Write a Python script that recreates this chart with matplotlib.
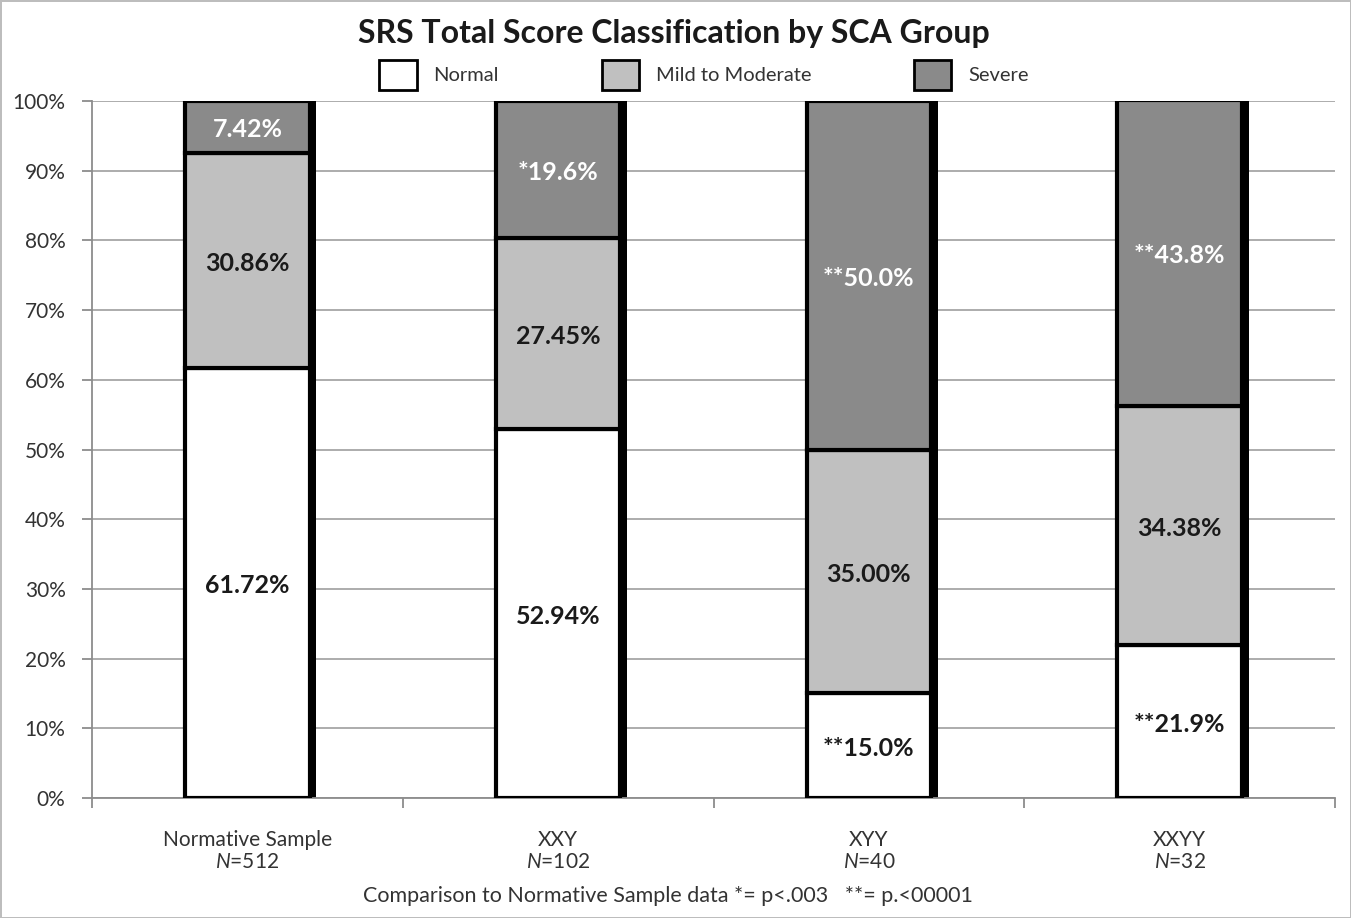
import matplotlib
matplotlib.use("Agg")
import matplotlib.pyplot as plt
import numpy as np
from matplotlib.patches import Patch
from matplotlib.ticker import FixedLocator, FuncFormatter

plt.rcParams['font.family'] = ['Lato', 'DejaVu Sans']
plt.rcParams['mathtext.fontset'] = 'custom'
plt.rcParams['mathtext.it'] = 'Lato:italic'
plt.rcParams['mathtext.rm'] = 'Lato'

groups = ["Normative Sample", "XXY", "XYY", "XXYY"]
ns = [512, 102, 40, 32]
normal = [61.72, 52.94, 15.0, 21.9]
mild = [30.86, 27.45, 35.00, 34.38]
severe = [7.42, 19.6, 50.0, 43.8]
normal_lbl = ["61.72%", "52.94%", "**15.0%", "**21.9%"]
mild_lbl = ["30.86%", "27.45%", "35.00%", "34.38%"]
severe_lbl = ["7.42%", "*19.6%", "**50.0%", "**43.8%"]
series_names = ["Normal", "Mild to Moderate", "Severe"]
colors = ["#ffffff", "#c0c0c0", "#8a8a8a"]
label_colors = ["#1a1a1a", "#1a1a1a", "#ffffff"]

fig = plt.figure(figsize=(13.51, 9.18), dpi=100)
fig.patch.set_edgecolor("#bdbdbd")
fig.patch.set_linewidth(2)
ax = fig.add_axes([92/1351, 1-798/918, (1335-92)/1351, (798-101)/918])

x = np.arange(len(groups))
width = 0.40
shadow_off = 0.022
totals = np.array(normal) + np.array(mild) + np.array(severe)

# shadow
ax.bar(x + shadow_off, totals, width, color="black", zorder=2)

bottom = np.zeros(len(groups))
for vals, col, lbls, lc in zip([normal, mild, severe], colors,
                               [normal_lbl, mild_lbl, severe_lbl], label_colors):
    vals = np.array(vals)
    ax.bar(x, vals, width, bottom=bottom, color=col, edgecolor="black",
           linewidth=3, zorder=3)
    for xi, b, v, l in zip(x, bottom, vals, lbls):
        ax.text(xi, b + v / 2 - 0.4, l, ha="center", va="center", fontsize=18,
                fontweight="bold", color=lc, zorder=5)
    bottom += vals

ax.set_xlim(-0.5, 3.5)
ax.set_ylim(0, 100)
ax.yaxis.set_major_locator(FixedLocator(np.arange(0, 101, 10)))
ax.yaxis.set_major_formatter(FuncFormatter(lambda v, p: f"{int(v)}%"))
ax.grid(axis="y", color="#a6a6a6", linewidth=1.3, zorder=0)
ax.set_axisbelow(True)
for s in ["top", "right"]:
    ax.spines[s].set_visible(False)
for s in ["left", "bottom"]:
    ax.spines[s].set_color("#8c8c8c")
    ax.spines[s].set_linewidth(1.3)

ax.set_xticks(x)
ax.set_xticklabels([f"{g}\n$\\mathit{{N}}$={n}" for g, n in zip(groups, ns)],
                   fontsize=15, color="#333333", linespacing=1.1)
ax.tick_params(axis="x", length=0, pad=23)
ax.set_xticks(np.arange(-0.5, 3.6, 1.0), minor=True)
ax.tick_params(axis="x", which="minor", length=7, color="#8c8c8c", width=1.3)
ax.tick_params(axis="y", length=7, color="#8c8c8c", width=1.3, labelsize=15,
               labelcolor="#333333", pad=12)

fig.text(674/1351, 1 - 34/918, "SRS Total Score Classification by SCA Group",
         ha="center", va="center", fontsize=23, fontweight="bold", color="#1a1a1a")

handles = [Patch(facecolor=c, edgecolor="black", linewidth=2) for c in colors]
fig.legend(handles, series_names, loc="center", bbox_to_anchor=(0.521, 1 - 75/918),
           ncol=3, frameon=False, fontsize=14.5, handlelength=1.86, handleheight=1.95,
           handletextpad=0.83, columnspacing=5.1, labelcolor="#333333")

fig.text(668/1351, 1 - 896/918,
         "Comparison to Normative Sample data *= p<.003   **= p.<00001",
         ha="center", va="center", fontsize=15.5, color="#333333")

fig.savefig("out.png", dpi=100)
